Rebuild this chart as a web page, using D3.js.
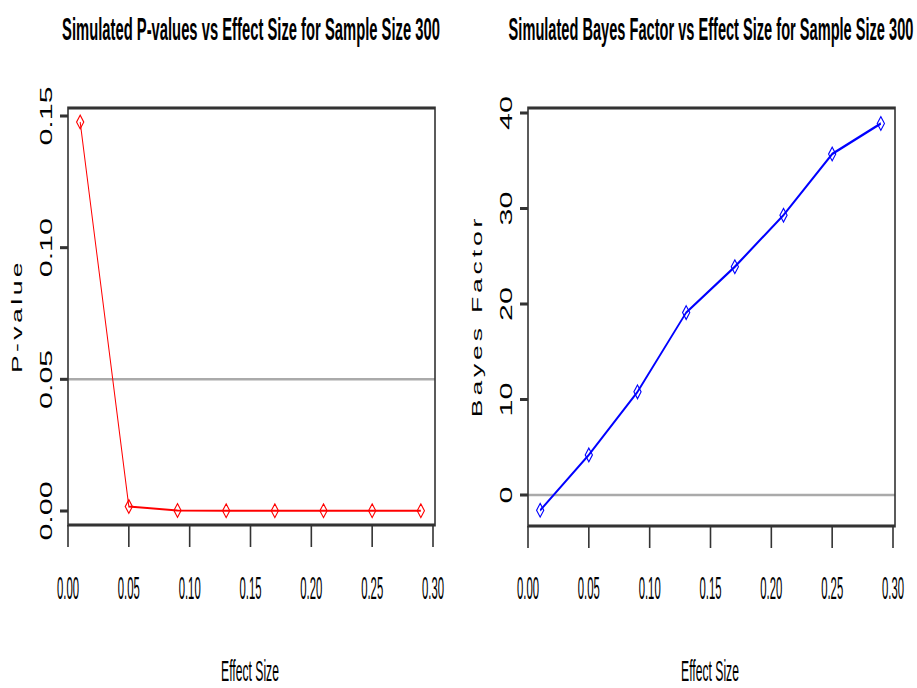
<!DOCTYPE html>
<html>
<head>
<meta charset="utf-8">
<script src="https://cdn.jsdelivr.net/npm/d3@7"></script>
<style>
  body { margin: 0; background: #fff; }
  text { font-family: "Liberation Sans", Arial, sans-serif; fill: #000; }
</style>
</head>
<body>
<script>
// data
var effectSizes = [0.01, 0.05, 0.09, 0.13, 0.17, 0.21, 0.25, 0.29];
var pValues = [0.1477, 0.0017, 0.0002, 0.0001, 0.0001, 0.0001, 0.0001, 0.0001];
var bayesFactors = [-1.6, 4.2, 10.8, 19.1, 23.9, 29.3, 35.7, 38.9];

var xTicks = [0, 0.05, 0.10, 0.15, 0.20, 0.25, 0.30];
var pTicks = [0, 0.05, 0.10, 0.15];
var bfTicks = [0, 10, 20, 30, 40];

var titles = ["Simulated P-values vs Effect Size for Sample Size 300",
              "Simulated Bayes Factor vs Effect Size for Sample Size 300"];
var yLabels = ["P-value", "Bayes Factor"];

// the reference is stretched vertically, lines and marks get drawn in a stretched group
var SY = 1.9;

var svg = d3.select("body").append("svg")
  .attr("width", 917)
  .attr("height", 688);

// squeeze a horizontal text to a given width and cap height
function fitText(sel, width, cap) {
  sel.each(function() {
    var t = d3.select(this);
    var fs = 14;
    t.attr("font-size", fs);
    var len = this.getComputedTextLength();
    var x = +t.attr("data-x"), y = +t.attr("data-y");
    t.attr("transform", "translate(" + x + "," + y + ") scale(" + (width / len) + "," + (cap / (0.716 * fs)) + ")");
  });
}

function drawPanel(opt) {
  var g = svg.append("g");
  var x = d3.scaleLinear().domain([0, 0.30]).range([opt.left, opt.left + 365]);
  var y = d3.scaleLinear().domain(opt.yDomain).range(opt.yRange);
  var ys = d => y(d) / SY;

  var s = g.append("g").attr("transform", "scale(1," + SY + ")");

  // reference line
  s.append("line")
    .attr("x1", opt.left).attr("x2", opt.left + 367)
    .attr("y1", ys(opt.refLine)).attr("y2", ys(opt.refLine))
    .attr("stroke", "#aaaaaa").attr("stroke-width", 1.3);

  // box
  s.append("rect")
    .attr("x", opt.left).attr("y", 108 / SY)
    .attr("width", 367).attr("height", (opt.bottom - 108) / SY)
    .attr("fill", "none").attr("stroke", "#333").attr("stroke-width", 1.6);

  // x axis ticks (long, R style)
  s.selectAll(".xt").data(xTicks).enter().append("line")
    .attr("x1", d => x(d)).attr("x2", d => x(d))
    .attr("y1", opt.bottom / SY).attr("y2", (opt.bottom + 22) / SY)
    .attr("stroke", "#333").attr("stroke-width", 1.6);
  g.selectAll(".xl").data(xTicks).enter().append("text")
    .attr("data-x", d => x(d)).attr("data-y", 599)
    .attr("text-anchor", "middle")
    .text(d => d3.format(".2f")(d))
    .call(fitText, 22, 22);

  // y axis ticks
  s.selectAll(".yt").data(opt.yTicks).enter().append("line")
    .attr("x1", opt.left - 8).attr("x2", opt.left)
    .attr("y1", ys).attr("y2", ys)
    .attr("stroke", "#333").attr("stroke-width", 1.6);
  g.selectAll(".yl").data(opt.yTicks).enter().append("text")
    .attr("transform", d => "translate(" + (opt.left - 16) + "," + y(d) + ") rotate(-90) scale(1.9,1)")
    .attr("text-anchor", "middle")
    .attr("font-size", 16)
    .text(opt.fmt);

  // series
  var line = d3.line().x((d, i) => x(effectSizes[i])).y(ys);
  s.append("path").datum(opt.values)
    .attr("d", line)
    .attr("fill", "none").attr("stroke", opt.color).attr("stroke-width", opt.lw);
  s.selectAll(".pt").data(opt.values).enter().append("path")
    .attr("transform", (d, i) => "translate(" + x(effectSizes[i]) + "," + ys(d) + ")")
    .attr("d", "M0,-3.6L3.6,0L0,3.6L-3.6,0Z")
    .attr("fill", "none").attr("stroke", opt.color).attr("stroke-width", 0.9);

  // titles and labels
  g.append("text")
    .attr("data-x", opt.titleX).attr("data-y", 40)
    .attr("text-anchor", "middle")
    .attr("font-weight", "bold")
    .text(opt.title)
    .call(fitText, opt.titleW, 23);
  g.append("text")
    .attr("data-x", opt.left + 182).attr("data-y", 681)
    .attr("text-anchor", "middle")
    .text("Effect Size")
    .call(fitText, 58, 21);
  g.append("text")
    .attr("transform", "translate(" + (opt.left - 46) + ",316) rotate(-90) scale(1.9,1)")
    .attr("text-anchor", "middle")
    .attr("font-size", 14)
    .attr("letter-spacing", opt.spacing)
    .text(opt.yLabel);
}

drawPanel({
  left: 68, bottom: 525,
  yDomain: [0, 0.15], yRange: [511, 116], yTicks: pTicks,
  fmt: d => d3.format(".2f")(d),
  refLine: 0.05, values: pValues, color: "#ff0000", lw: 1,
  title: titles[0], titleX: 251, titleW: 378,
  yLabel: yLabels[0], spacing: 1.8
});

drawPanel({
  left: 528, bottom: 526,
  yDomain: [0, 40], yRange: [495, 113], yTicks: bfTicks,
  fmt: d => d3.format("d")(d),
  refLine: 0, values: bayesFactors, color: "#0000ff", lw: 1.4,
  title: titles[1], titleX: 711, titleW: 405,
  yLabel: yLabels[1], spacing: 2
});
</script>
</body>
</html>
